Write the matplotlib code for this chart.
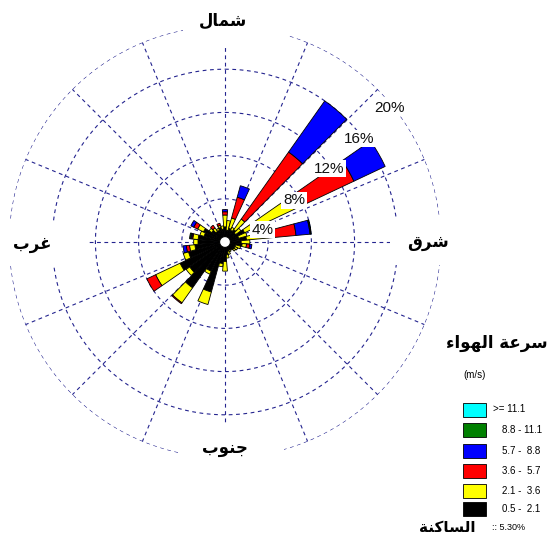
import numpy as np
import matplotlib.pyplot as plt
from matplotlib.patches import Rectangle

W, H = 554, 538

# bearing of each petal (degrees clockwise from north)
directions = np.arange(0, 360, 10)

# frequency (%) of each speed class per direction
freq_0_5 = [1.4, 1.1, 1.3, 1.2, 1.4, 1.2, 2.0, 1.3, 2.0, 1.5, 1.6, 1.0,
            1.0, 1.0, 0.9, 0.8, 0.9, 1.2, 1.8, 2.0, 4.8, 3.0, 5.2, 4.0,
            4.6, 3.5, 2.8, 2.5, 2.5, 2.0, 2.2, 1.5, 1.2, 1.2, 1.4, 1.2]
freq_2_1 = [1.1, 0.9, 1.0, 0.3, 1.2, 0.6, 5.5, 0.8, 2.0, 0.8, 0.4, 0.5,
            0.3, 0.2, 0.0, 0.2, 0.3, 0.3, 0.9, 0.3, 1.2, 0.3, 1.7, 0.4,
            2.5, 0.5, 0.5, 0.4, 0.5, 0.4, 0.6, 0.3, 0.4, 0.2, 0.2, 0.3]
freq_3_6 = [0.3, 0.0, 2.0, 0.0, 7.6, 0.0, 5.7, 0.0, 2.6, 0.0, 0.3, 0.0,
            0.0, 0.0, 0.0, 0.0, 0.0, 0.0, 0.0, 0.0, 0.0, 0.0, 0.1, 0.0,
            0.9, 0.0, 0.3, 0.0, 0.1, 0.0, 0.4, 0.0, 0.3, 0.0, 0.2, 0.0]
freq_5_7 = [0.2, 0.0, 1.1, 0.0, 5.8, 0.0, 3.2, 0.0, 1.3, 0.0, 0.2, 0.0,
            0.0, 0.0, 0.0, 0.0, 0.0, 0.0, 0.0, 0.0, 0.0, 0.0, 0.0, 0.0,
            0.0, 0.0, 0.3, 0.0, 0.1, 0.0, 0.3, 0.0, 0.0, 0.0, 0.0, 0.0]
freq_8_8 = [0.0] * 8 + [0.07] + [0.0] * 19 + [0.1] + [0.0] * 7
freq_11_1 = [0.0] * 8 + [0.05] + [0.0] * 27

speed_classes = [freq_0_5, freq_2_1, freq_3_6, freq_5_7, freq_8_8, freq_11_1]
speed_colors = ['black', '#ffff00', '#ff0000', '#0000ff', '#008000', '#00ffff']
speed_labels = ['0.5 -  2.1', '2.1 -  3.6', '3.6 -  5.7', '5.7 -  8.8',
                '8.8 - 11.1', '>= 11.1']
calm_pct = 5.30
ring_pcts = [4, 8, 12, 16, 20]

# Arabic strings in presentation forms, visual order
north = '\uFEDD\uFE8E\uFEE4\uFEB7'
south = '\uFE8F\uFEEE\uFEE8\uFE9F'
east = '\uFED5\uFEAE\uFEB7'
west = '\uFE8F\uFEAE\uFECF'
legend_title = '\uFE80\uFE8D\uFEEE\uFEEC\uFEDF\uFE8D \uFE94\uFECB\uFEAE\uFEB3'
calm_title = '\uFE94\uFEE8\uFEDB\uFE8E\uFEB4\uFEDF\uFE8D'

fig = plt.figure(figsize=(W / 100, H / 100), dpi=100)


def fx(x):
    return x / W


def fy(y):
    return 1 - y / H


# polar axes: centre at (225, 242) px, outer ring radius 216 px
cx, cy, R = 225, 242, 216
ax = fig.add_axes([fx(cx - R), fy(cy + R), 2 * R / W, 2 * R / H],
                  projection='polar')
ax.set_theta_zero_location('N')
ax.set_theta_direction(-1)
ax.set_ylim(0, ring_pcts[-1])
ax.axis('off')

grid_kw = dict(color='#24248f', lw=0.8, ls=(0, (3.4, 3.2)), zorder=1)
full = np.linspace(0, 2 * np.pi, 400)
for r in ring_pcts:
    ax.plot(full, np.full_like(full, r), **grid_kw)
for a in np.arange(0, 360, 22.5):
    t = np.deg2rad(a)
    ax.plot([t, t], [0, ring_pcts[-1]], **grid_kw)

# stacked petals
theta = np.deg2rad(directions)
width = np.deg2rad(9.5)
bottom = np.zeros(len(directions))
for vals, col in zip(speed_classes, speed_colors):
    vals = np.array(vals)
    m = vals > 0
    ax.bar(theta[m], vals[m], width=width, bottom=bottom[m], color=col,
           edgecolor='black', linewidth=0.6, zorder=3)
    bottom += vals

# calm circle in the middle
ax.fill(full, np.full_like(full, 0.5), facecolor='white', edgecolor='black',
        linewidth=0.8, zorder=5)

# ring labels
label_pos = [(72, 3.65), (58.7, 7.48), (54.9, 11.76), (52.4, 15.7), (50.8, 19.7)]
for (b, r), p in zip(label_pos, ring_pcts):
    ax.text(np.deg2rad(b), r, f'{p}%', ha='center', va='center', fontsize=11,
            family='Liberation Sans', color='#111111', zorder=10,
            bbox=dict(boxstyle='square,pad=0.1', fc='white', ec='none'))

# white boxes behind the compass labels
for x0, y0, x1, y1 in [(183, 0, 287, 45), (180, 424, 284, 470),
                       (0, 222, 88, 265), (390, 217, 494, 265)]:
    fig.add_artist(Rectangle((fx(x0), fy(y1)), (x1 - x0) / W, (y1 - y0) / H,
                             transform=fig.transFigure, fc='white', ec='none',
                             zorder=2))

compass_kw = dict(ha='center', va='center', fontsize=12, fontweight='bold',
                  family=['DejaVu Sans'], zorder=3)
fig.text(fx(223), fy(21), north, **compass_kw)
fig.text(fx(225), fy(448), south, **compass_kw)
fig.text(fx(428), fy(242), east, **compass_kw)
fig.text(fx(32), fy(244), west, **compass_kw)

# legend
fig.text(fx(497), fy(343), legend_title, ha='center', va='center',
         fontsize=12, fontweight='bold', family=['DejaVu Sans'])
fig.text(fx(475), fy(375), '(m/s)', ha='center', va='center', fontsize=7,
         family='Liberation Sans')
row_y = [409.5, 430, 450.5, 470.5, 490.5, 508.5]
for i, (lab, col) in enumerate(zip(speed_labels[::-1], speed_colors[::-1])):
    y = row_y[i]
    fig.add_artist(Rectangle((fx(463), fy(y + 7)), 23 / W, 14 / H,
                             transform=fig.transFigure, fc=col, ec='black',
                             lw=0.6))
    tx = 493 if lab.startswith('>') else 502
    fig.text(fx(tx), fy(y), lab, ha='left', va='center', fontsize=7,
             family='Liberation Sans')

fig.text(fx(447), fy(527), calm_title, ha='center', va='center', fontsize=11,
         fontweight='bold', family=['DejaVu Sans'])
fig.text(fx(492), fy(528), f':: {calm_pct:.2f}%', ha='left', va='center',
         fontsize=6.5, family='Liberation Sans')

fig.savefig('out.png', dpi=100)
